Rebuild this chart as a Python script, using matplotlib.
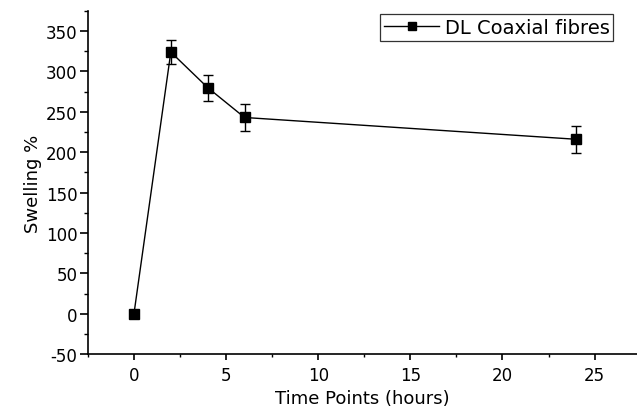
import matplotlib
matplotlib.use("Agg")
import matplotlib.pyplot as plt
from matplotlib.lines import Line2D
from matplotlib.ticker import MultipleLocator

plt.rcParams['font.family'] = ['DejaVu Sans']
plt.rcParams['axes.unicode_minus'] = False

time_hours = [0, 2, 4, 6, 24]
swelling = [0, 324, 280, 243, 216]
swelling_err = [0, 15, 16, 17, 17]
series_label = 'DL Coaxial fibres'

fig = plt.figure(figsize=(6.37, 4.10), dpi=100)
ax = fig.add_axes([0.138, 0.134, 0.862, 0.837])

ax.errorbar(time_hours, swelling, yerr=swelling_err, color='black', lw=1.0,
            marker='s', markersize=7, capsize=3.3, elinewidth=1.0, capthick=1.0)

ax.set_xlim(-2.5, 27.3)
ax.set_ylim(-50, 375)
ax.xaxis.set_major_locator(MultipleLocator(5))
ax.xaxis.set_minor_locator(MultipleLocator(2.5))
ax.yaxis.set_major_locator(MultipleLocator(50))
ax.yaxis.set_minor_locator(MultipleLocator(25))

for s in ['top', 'right']:
    ax.spines[s].set_visible(False)
for s in ['left', 'bottom']:
    ax.spines[s].set_linewidth(1.2)

ax.tick_params(axis='y', which='major', direction='out', length=6, width=1.2,
               labelsize=12, pad=1.5)
ax.tick_params(axis='y', which='minor', direction='out', length=3, width=1.0)
ax.tick_params(axis='x', which='major', direction='out', length=4.5, width=1.2,
               labelsize=12, pad=4)
ax.tick_params(axis='x', which='minor', direction='out', length=2.5, width=1.0)

ax.set_xlabel('Time Points (hours)', fontsize=13, labelpad=3.5)
ax.set_ylabel('Swelling %', fontsize=13, labelpad=3)

handle = Line2D([], [], color='black', lw=1.0, marker='s', markersize=6)
leg = ax.legend([handle], [series_label], loc='upper right',
                bbox_to_anchor=(0.957, 0.991), fontsize=14,
                frameon=True, fancybox=False, edgecolor='black',
                handlelength=2.8, borderpad=0.2, handletextpad=0.3,
                borderaxespad=0)
leg.get_frame().set_linewidth(0.9)

fig.savefig('out.png', dpi=100)
